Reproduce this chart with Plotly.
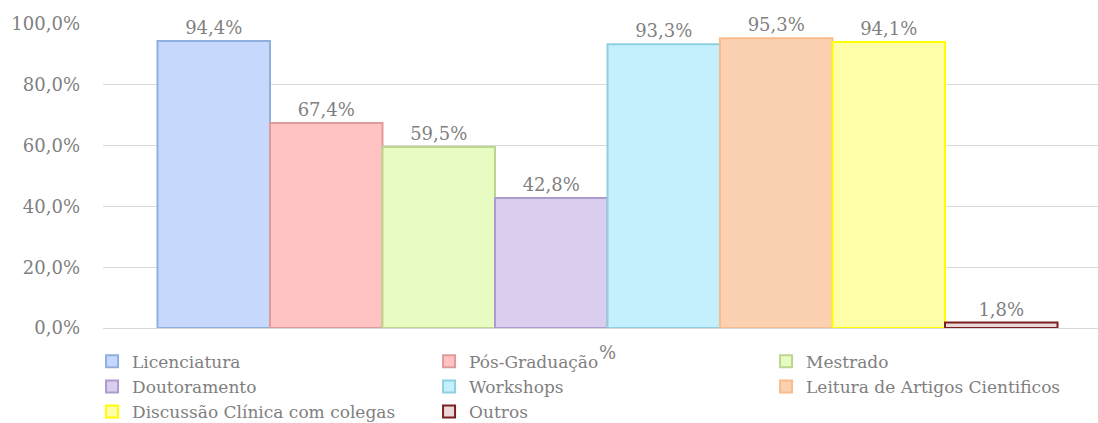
import plotly.graph_objects as go

categories = ["Licenciatura", "Pós-Graduação", "Mestrado", "Doutoramento",
              "Workshops", "Leitura de Artigos Cientificos",
              "Discussão Clínica com colegas", "Outros"]
values = [0.944, 0.674, 0.595, 0.428, 0.933, 0.953, 0.941, 0.018]
x_label = "%"
fills = ["#c6d8fc", "#ffc3c3", "#e7fcc3", "#dacdee", "#c3f0fc", "#fcd1b2", "#ffffaa", "#ead8d8"]
borders = ["#8fb0dc", "#e09a9a", "#bcd58f", "#ad9bcf", "#8fd0e0", "#f8bb8c", "#ffff00", "#7b1f1f"]

SERIF = "DejaVu Serif, serif"

fig = go.Figure()
for name, v, fc, bc in zip(categories, values, fills, borders):
    fig.add_trace(go.Bar(
        x=[x_label], y=[v], name=name,
        marker=dict(color=fc, line=dict(color=bc, width=2)),
        texttemplate="%{y:.1%}", textposition="outside",
        textfont=dict(size=18, color="#7f7f7f", family=SERIF),
        cliponaxis=False,
    ))

fig.update_layout(
    width=1098, height=423,
    margin=dict(l=103, r=0, t=24, b=95, autoexpand=False),
    paper_bgcolor="white", plot_bgcolor="white",
    barmode="group", bargap=0.1, bargroupgap=0,
    separators=",.",
    font=dict(family=SERIF, color="#7f7f7f", size=18),
    showlegend=True,
    legend=dict(
        orientation="h", x=-0.011, xanchor="left", y=-0.052, yanchor="top",
        entrywidth=292, entrywidthmode="pixels",
        bgcolor="rgba(0,0,0,0)",
        font=dict(size=17, color="#7f7f7f", family=SERIF),
        traceorder="normal", itemclick=False,
    ),
    xaxis=dict(
        type="category", range=[-0.5045, 0.4905],
        showline=True, linecolor="#d9d9d9", linewidth=1,
        showgrid=False, ticks="", automargin=False,
        ticklabelstandoff=8,
        tickfont=dict(size=18, color="#7f7f7f", family=SERIF),
    ),
    yaxis=dict(
        range=[0, 1.0], tickvals=[0, 0.2, 0.4, 0.6, 0.8, 1.0],
        tickformat=".1%", showgrid=True, gridcolor="#d9d9d9", gridwidth=1,
        zeroline=False, showline=False, ticks="", automargin=False,
        ticklabelstandoff=22,
        tickfont=dict(size=18, color="#7f7f7f", family=SERIF),
    ),
)

fig.write_html("out.html")
